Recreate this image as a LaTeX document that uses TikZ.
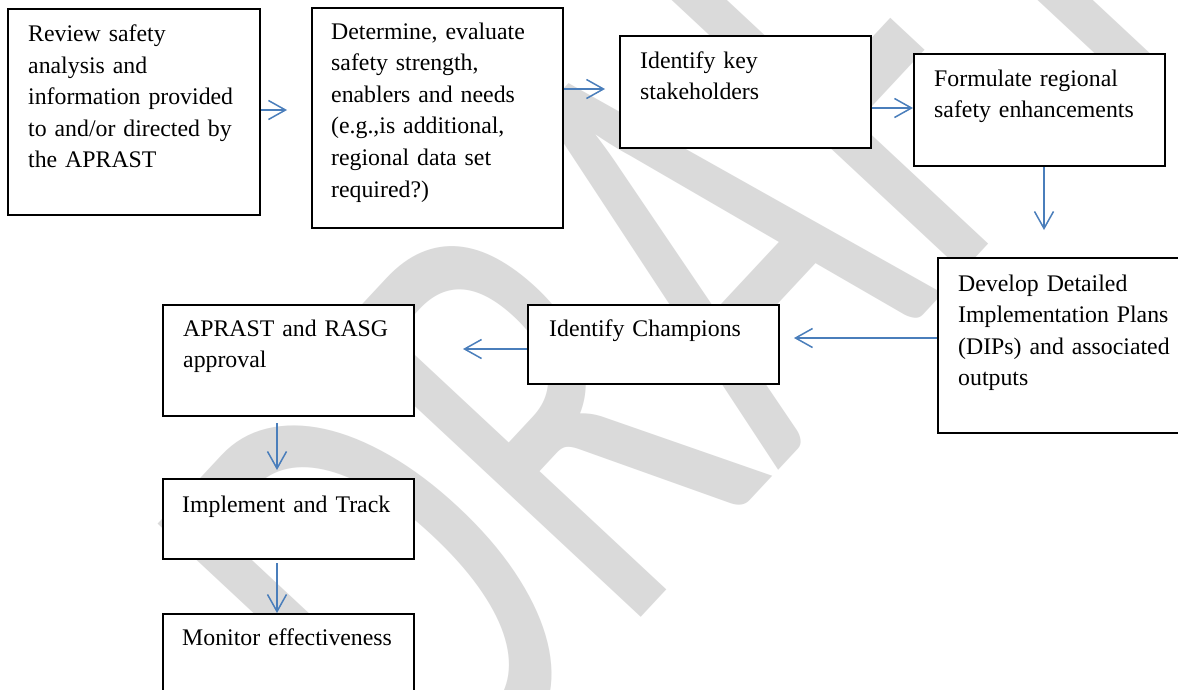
\documentclass[tikz,border=0pt]{standalone}
\usepackage{fontspec}
\setmainfont{Liberation Serif}
\newfontfamily\wmfont{Carlito}
\usetikzlibrary{arrows.meta}
\definecolor{flowblue}{RGB}{74,126,187}
\definecolor{wmgray}{RGB}{218,218,218}
\begin{document}
\begin{tikzpicture}[x=1pt,y=-1pt,
  box/.style={draw=black, line width=1.8pt, fill=white, inner sep=0pt, anchor=north west},
  txt/.style={font=\fontsize{23.8}{31.6}\selectfont, align=left, text width=250pt, inner sep=0pt, anchor=base west},
  arr/.style={draw=flowblue, line width=1.5pt, -{Straight Barb[length=17pt,width=19pt]}},
  wm/.style={font=\wmfont\fontsize{650}{650}\selectfont, text=wmgray, rotate=47, inner sep=0pt, anchor=base}]
\useasboundingbox (0,0) rectangle (1178,689);
\fill[white] (0,0) rectangle (1178,689);

% watermark behind the flow
\node[wm] (draft) at (830,415) {\scalebox{0.65}[1]{DRAFT}};

% process boxes
\node[box, minimum width=252pt, minimum height=206pt] (b1) at (7,8) {};
\node[box, minimum width=251pt, minimum height=220pt] (b2) at (311,7) {};
\node[box, minimum width=251pt, minimum height=112pt] (b3) at (619,35) {};
\node[box, minimum width=251pt, minimum height=112pt] (b4) at (913,53) {};
\node[box, minimum width=253pt, minimum height=175pt] (b5) at (937,257) {};
\node[box, minimum width=251pt, minimum height=79pt] (b6) at (527,304) {};
\node[box, minimum width=251pt, minimum height=111pt] (b7) at (162,304) {};
\node[box, minimum width=251pt, minimum height=80pt] (b8) at (162,478) {};
\node[box, minimum width=251pt, minimum height=90pt] (b9) at (162,613) {};

% box texts
\node[txt] (t1) at (28,41.5) {Review safety\\analysis and\\information provided\\to and/or directed by\\the APRAST};
\node[txt] (t2) at (331,39) {Determine, evaluate\\safety strength,\\enablers and needs\\(e.g.,is additional,\\regional data set\\required?)};
\node[txt] (t3) at (640,68) {Identify key\\stakeholders};
\node[txt] (t4) at (934,86) {Formulate regional\\safety enhancements};
\node[txt] (t5) at (958,291) {Develop Detailed\\Implementation Plans\\(DIPs) and associated\\outputs};
\node[txt] (t6) at (549,336) {Identify Champions};
\node[txt] (t7) at (183,336) {APRAST and RASG\\approval};
\node[txt] (t8) at (182,512) {Implement and Track};
\node[txt] (t9) at (182,645) {Monitor effectiveness};

% connectors
\coordinate (e1) at (287,110);
\draw[arr] (b1.east |- e1) -- (e1);
\coordinate (e2) at (605,89);
\draw[arr] (b2.east |- e2) -- (e2);
\coordinate (e3) at (913,108);
\draw[arr] (b3.east |- e3) -- (b4.west |- e3);
\coordinate (e4) at (1044,230);
\draw[arr] (b4.south -| e4) -- (e4);
\coordinate (e5) at (794,338);
\draw[arr] (b5.west |- e5) -- (e5);
\coordinate (e6) at (463,349);
\draw[arr] (b6.west |- e6) -- (e6);
\coordinate (s7) at (277,423);
\coordinate (e7) at (277,470);
\draw[arr] (s7) -- (e7);
\coordinate (s8) at (277,563);
\draw[arr] (s8) -- (s8 |- b9.north);
\end{tikzpicture}
\end{document}
